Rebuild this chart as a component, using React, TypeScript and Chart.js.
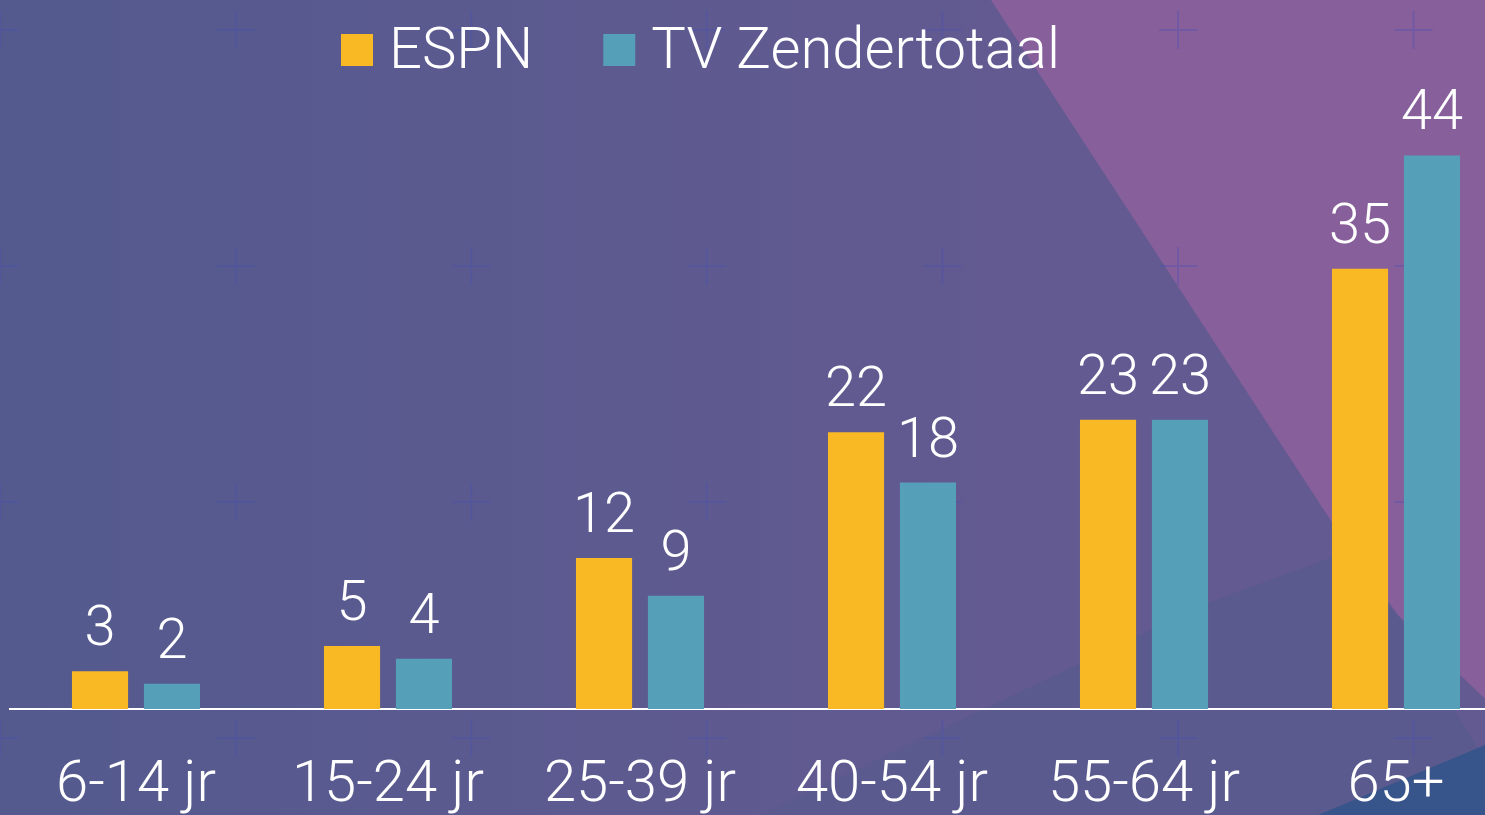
import React, { useEffect, useRef } from "react";
import { Chart, registerables } from "chart.js";

Chart.register(...registerables);

const categories = ["6-14 jr", "15-24 jr", "25-39 jr", "40-54 jr", "55-64 jr", "65+"];
const espnValues = [3, 5, 12, 22, 23, 35];
const tvValues = [2, 4, 9, 18, 23, 44];
const seriesLabels = ["ESPN", "TV Zendertotaal"];
const seriesColors = ["#F8B924", "#569FB8"];

const FONT_FAMILY = "Roboto, 'Noto Sans', sans-serif";
const TEXT_SIZE = 58;
const VALUE_SIZE = 56;

function poly(ctx: CanvasRenderingContext2D, color: string, pts: number[][]) {
  ctx.beginPath();
  pts.forEach((p, i) => (i === 0 ? ctx.moveTo(p[0], p[1]) : ctx.lineTo(p[0], p[1])));
  ctx.closePath();
  ctx.fillStyle = color;
  ctx.fill();
}

const backgroundPlugin = {
  id: "bgDecor",
  beforeDraw(chart: any) {
    const { ctx, width, height } = chart;
    ctx.save();
    const g = ctx.createLinearGradient(0, 0, 1000, 0);
    g.addColorStop(0, "#545a8e");
    g.addColorStop(1, "#625a91");
    ctx.fillStyle = g;
    ctx.fillRect(0, 0, width, height);
    poly(ctx, "rgba(84, 90, 142, 0.45)", [[760, 815], [1210, 602], [1335, 556], [1398, 615], [1485, 760], [1485, 815]]);
    poly(ctx, "#875f9b", [[991, 0], [1540, 0], [1540, 752], [1398, 615], [1335, 527]]);
    poly(ctx, "#37558a", [[1318, 815], [1485, 745], [1540, 745], [1540, 815]]);
    ctx.strokeStyle = "rgba(72, 80, 178, 0.35)";
    ctx.lineWidth = 2;
    for (let i = 0; i < 8; i++) {
      for (let j = 0; j < 4; j++) {
        const cx = i * 235.6;
        const cy = 30 + j * 236;
        ctx.beginPath();
        ctx.moveTo(cx - 19, cy);
        ctx.lineTo(cx + 19, cy);
        ctx.moveTo(cx, cy - 19);
        ctx.lineTo(cx, cy + 19);
        ctx.stroke();
      }
    }
    ctx.restore();
  },
};

const legendPlugin = {
  id: "customLegend",
  afterDraw(chart: any) {
    const { ctx } = chart;
    ctx.save();
    ctx.font = `300 ${TEXT_SIZE}px ${FONT_FAMILY}`;
    ctx.textBaseline = "alphabetic";
    ctx.textAlign = "left";
    let x = 341;
    chart.data.datasets.forEach((ds: any) => {
      ctx.fillStyle = ds.backgroundColor;
      ctx.fillRect(x, 34, 32, 32);
      x += 32 + 16;
      ctx.fillStyle = "#ffffff";
      ctx.fillText(ds.label, x, 68);
      x += ctx.measureText(ds.label).width + 70;
    });
    ctx.restore();
  },
};

const valueLabelPlugin = {
  id: "valueLabels",
  afterDatasetsDraw(chart: any) {
    const { ctx } = chart;
    ctx.save();
    ctx.font = `300 ${VALUE_SIZE}px ${FONT_FAMILY}`;
    ctx.fillStyle = "#ffffff";
    ctx.textAlign = "center";
    ctx.textBaseline = "alphabetic";
    chart.data.datasets.forEach((ds: any, di: number) => {
      const meta = chart.getDatasetMeta(di);
      meta.data.forEach((bar: any, i: number) => {
        ctx.fillText(String(ds.data[i]), bar.x, bar.y - 26);
      });
    });
    ctx.restore();
  },
};

export default function App() {
  const ref = useRef<HTMLCanvasElement>(null);
  useEffect(() => {
    let chart: Chart | null = null;
    let cancelled = false;
    const make = () => {
      if (cancelled || !ref.current) return;
      chart = new Chart(ref.current, {
        type: "bar",
        data: {
          labels: categories,
          datasets: [
            {
              label: seriesLabels[0],
              data: espnValues,
              backgroundColor: seriesColors[0],
              borderWidth: 0,
              categoryPercentage: 0.571,
              barPercentage: 0.78,
            },
            {
              label: seriesLabels[1],
              data: tvValues,
              backgroundColor: seriesColors[1],
              borderWidth: 0,
              categoryPercentage: 0.571,
              barPercentage: 0.78,
            },
          ],
        },
        options: {
          animation: false,
          responsive: true,
          maintainAspectRatio: false,
          layout: { padding: { left: 10, right: 10, top: 80, bottom: 0 } },
          plugins: {
            legend: { display: false },
            tooltip: { enabled: false },
            title: { display: false },
          },
          scales: {
            x: {
              grid: { display: false, drawTicks: false },
              border: { display: true, color: "#ffffff", width: 2 },
              ticks: {
                color: "#ffffff",
                font: { family: FONT_FAMILY, size: TEXT_SIZE, weight: "300" as any, lineHeight: 1 },
                padding: 48,
                maxRotation: 0,
                autoSkip: false,
              },
              afterFit: (scale: any) => {
                scale.height = 106;
              },
            },
            y: { display: false, min: 0, max: 50 },
          },
        },
        plugins: [backgroundPlugin, valueLabelPlugin, legendPlugin],
      });
    };
    const fonts: any = (document as any).fonts;
    if (fonts && fonts.load) {
      fonts.load(`300 ${TEXT_SIZE}px Roboto`).then(make, make);
    } else {
      make();
    }
    return () => {
      cancelled = true;
      if (chart) chart.destroy();
    };
  }, []);
  return (
    <div style={{ position: "fixed", left: 0, top: 0, width: 1485, height: 815, overflow: "hidden" }}>
      <div style={{ position: "relative", width: 1532, height: 815 }}>
        <canvas ref={ref} />
      </div>
    </div>
  );
}
